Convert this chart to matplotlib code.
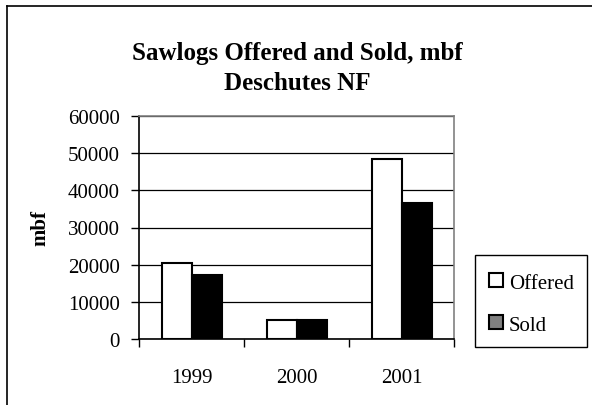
import matplotlib
matplotlib.use("Agg")
import matplotlib.pyplot as plt
from matplotlib.patches import Patch, Rectangle
from matplotlib.lines import Line2D
import numpy as np

# Data
years = ["1999", "2000", "2001"]
offered = [20500, 5200, 48400]
sold = [17100, 5200, 36600]
y_ticks = [0, 10000, 20000, 30000, 40000, 50000, 60000]

plt.rcParams["font.family"] = ["Liberation Serif", "DejaVu Serif"]

W, H = 592, 406
fig = plt.figure(figsize=(W / 100, H / 100), dpi=100)

# Outer chart frame (top and left edges visible)
fig.add_artist(Line2D([7 / W, 7 / W], [0, 1 - 7 / H], color="black", lw=1.2,
                      transform=fig.transFigure))
fig.add_artist(Line2D([7 / W, 1], [1 - 7 / H, 1 - 7 / H], color="black", lw=1.2,
                      transform=fig.transFigure))

# Plot area
left, right, top, bottom = 139, 454, 117, 340
ax = fig.add_axes([left / W, 1 - bottom / H, (right - left) / W, (bottom - top) / H])

x = np.arange(len(years))
bw = 1 / 3.5
ax.bar(x - bw / 2, offered, width=bw, color="white", edgecolor="black", lw=1.5, zorder=3)
ax.bar(x + bw / 2, sold, width=bw, color="black", edgecolor="black", lw=1.5, zorder=3)

ax.set_xlim(-0.5, len(years) - 0.5)
ax.set_ylim(0, 60000)
ax.set_yticks(y_ticks)
ax.set_yticklabels([str(v) for v in y_ticks], fontsize=15)
ax.yaxis.grid(True, color="black", lw=0.9, zorder=0)
ax.set_axisbelow(True)

# Category boundaries as major ticks, labels on minor ticks
ax.set_xticks(np.arange(len(years) + 1) - 0.5)
ax.set_xticklabels([])
ax.set_xticks(x, minor=True)
ax.set_xticklabels(years, minor=True, fontsize=15)
ax.tick_params(axis="x", which="major", direction="out", length=6, width=1, color="black")
ax.tick_params(axis="x", which="minor", length=0, pad=21)
ax.tick_params(axis="y", direction="out", length=6, width=1, pad=8)

for side in ("top", "right"):
    ax.spines[side].set_color("#808080")
    ax.spines[side].set_linewidth(1.2)
for side in ("left", "bottom"):
    ax.spines[side].set_color("black")
    ax.spines[side].set_linewidth(1.2)

ax.set_ylabel("mbf", fontsize=15, fontweight="bold", labelpad=12)

# Title
fig.text(297 / W, 1 - 54 / H, "Sawlogs Offered and Sold, mbf", ha="center", va="center",
         fontsize=18, fontweight="bold")
fig.text(297 / W, 1 - 83 / H, "Deschutes NF", ha="center", va="center",
         fontsize=18, fontweight="bold")

# Legend
fig.add_artist(Rectangle((475 / W, 1 - 348 / H), (587 - 475) / W, (348 - 256) / H,
                         transform=fig.transFigure, fill=False, edgecolor="black", lw=1.0))
handles = [Patch(facecolor="white", edgecolor="black", lw=1.5, label="Offered"),
           Patch(facecolor="#808080", edgecolor="black", lw=1.5, label="Sold")]
fig.legend(handles=handles, loc="center left", bbox_to_anchor=(489 / W, 1 - 305 / H),
           frameon=False, fontsize=15, handlelength=0.65, handleheight=0.65,
           handletextpad=0.3, labelspacing=1.1, borderpad=0, borderaxespad=0)

fig.savefig("out.png", dpi=100)
